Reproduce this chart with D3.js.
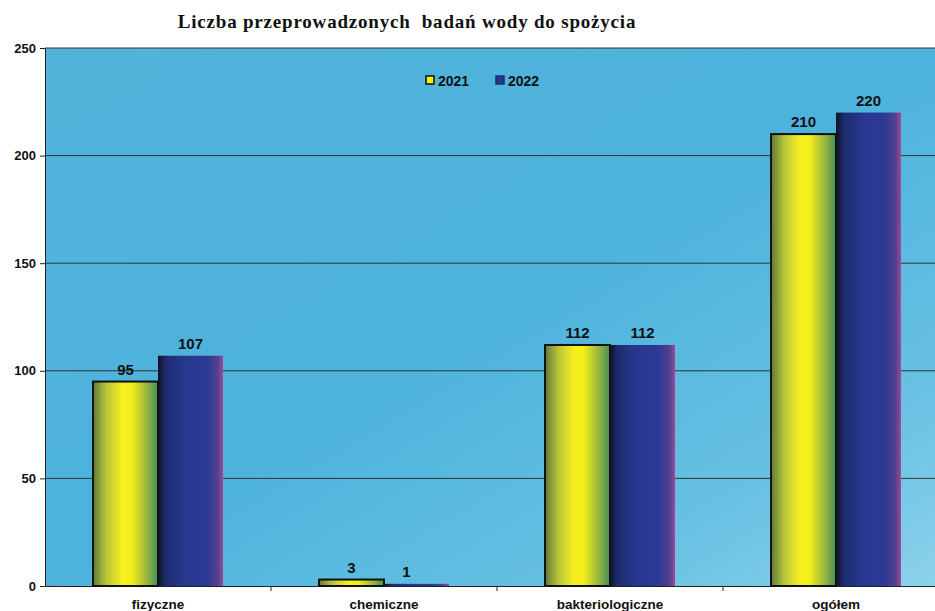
<!DOCTYPE html>
<html>
<head>
<meta charset="utf-8">
<script src="https://cdn.jsdelivr.net/npm/d3@7"></script>
<style>
  body { margin: 0; background: #fff; }
  text { font-family: "Liberation Sans", Arial, sans-serif; }
</style>
</head>
<body>
<svg></svg>
<script>
let categories = ['fizyczne', 'chemiczne', 'bakteriologiczne', 'ogółem'];
let series = ['2021', '2022'];
let values2021 = [95, 3, 112, 210];
let values2022 = [107, 1, 112, 220];
let yTicks = [0, 50, 100, 150, 200, 250];

let width = 935;
let height = 611;
let plotLeft = 45;
let plotRight = 949;
let plotTop = 48;
let plotBottom = 586;

let svg = d3.select('svg')
  .attr('width', width)
  .attr('height', height)

let defs = svg.append('defs');

let bg = defs.append('linearGradient').attr('id', 'bg')
  .attr('x1', 0).attr('y1', 0).attr('x2', 1).attr('y2', 1);
bg.append('stop').attr('offset', '0%').attr('stop-color', '#52b3da');
bg.append('stop').attr('offset', '50%').attr('stop-color', '#4db3dc');
bg.append('stop').attr('offset', '80%').attr('stop-color', '#68c1e3');
bg.append('stop').attr('offset', '100%').attr('stop-color', '#8dd2ec');

let g1 = defs.append('linearGradient').attr('id', 'g2021');
[['0%', '#5f7a3a'], ['20%', '#b8c43a'], ['45%', '#f7f020'], ['60%', '#f2ee1a'], ['85%', '#8fb040'], ['100%', '#3f8f5a']]
  .forEach(s => g1.append('stop').attr('offset', s[0]).attr('stop-color', s[1]));

let g2 = defs.append('linearGradient').attr('id', 'g2022');
[['0%', '#111122'], ['12%', '#1e2c6e'], ['40%', '#27378f'], ['75%', '#2d3a94'], ['92%', '#54408f'], ['100%', '#a04a98']]
  .forEach(s => g2.append('stop').attr('offset', s[0]).attr('stop-color', s[1]));

let xScale = d3.scaleBand()
  .domain(categories)
  .range([plotLeft, plotRight])
  .paddingInner(0.425)
  .paddingOuter(0.2125)

let xSub = d3.scaleBand()
  .domain(series)
  .range([0, xScale.bandwidth()])

let yScale = d3.scaleLinear()
  .domain([0, 250])
  .range([plotBottom, plotTop])

// plot background
svg.append('rect')
  .attr('x', plotLeft)
  .attr('y', plotTop)
  .attr('width', plotRight - plotLeft)
  .attr('height', plotBottom - plotTop)
  .attr('fill', 'url(#bg)')

// title
svg.append('text')
  .attr('x', 407)
  .attr('y', 28)
  .attr('text-anchor', 'middle')
  .style('font-family', '"Liberation Serif", "Times New Roman", serif')
  .style('font-weight', 'bold')
  .style('font-size', '19px')
  .style('letter-spacing', '0.8px')
  .style('white-space', 'pre')
  .attr('fill', '#111')
  .text('Liczba przeprowadzonych  badań wody do spożycia')

// grid
svg.append('g')
  .selectAll('line')
  .data(yTicks.filter(d => d > 0))
  .enter()
  .append('line')
  .attr('x1', plotLeft)
  .attr('x2', plotRight)
  .attr('y1', d => yScale(d))
  .attr('y2', d => yScale(d))
  .attr('stroke', '#333')
  .attr('stroke-width', 1)

// y axis
let yAxis = d3.axisLeft(yScale).tickValues(yTicks).tickSize(5).tickPadding(4);
let ya = svg.append('g')
  .attr('transform', `translate(${plotLeft}, 0)`)
  .call(yAxis)
ya.selectAll('text').style('font-size', '13px').style('font-weight', 'bold').attr('fill', '#111');
ya.selectAll('line, path').attr('stroke', '#222');

// x axis
let xAxis = d3.axisBottom(xScale).tickSize(0).tickPadding(13);
let xa = svg.append('g')
  .attr('transform', `translate(0, ${plotBottom})`)
  .call(xAxis)
xa.select('path').attr('stroke', '#222');
xa.selectAll('text').style('font-size', '13.5px').style('font-weight', 'bold').attr('fill', '#111');

// ticks between categories
let step = xScale.step();
svg.append('g')
  .selectAll('line')
  .data(categories.slice(1))
  .enter()
  .append('line')
  .attr('x1', d => xScale(d) - step * 0.425 / 2)
  .attr('x2', d => xScale(d) - step * 0.425 / 2)
  .attr('y1', plotBottom)
  .attr('y2', plotBottom + 5)
  .attr('stroke', '#222')

let rows = [];
categories.forEach((c, i) => {
  rows.push({ cat: c, s: '2021', v: values2021[i] });
  rows.push({ cat: c, s: '2022', v: values2022[i] });
});

svg.append('g')
  .selectAll('rect')
  .data(rows)
  .enter()
  .append('rect')
  .attr('x', d => xScale(d.cat) + xSub(d.s))
  .attr('y', d => yScale(d.v))
  .attr('width', xSub.bandwidth())
  .attr('height', d => plotBottom - yScale(d.v))
  .attr('fill', d => d.s === '2021' ? 'url(#g2021)' : 'url(#g2022)')
  .attr('stroke', d => d.s === '2021' ? '#111' : 'none')
  .attr('stroke-width', 2)

svg.append('g')
  .selectAll('text')
  .data(rows)
  .enter()
  .append('text')
  .attr('x', d => xScale(d.cat) + xSub(d.s) + xSub.bandwidth() / 2 + (d.v < 5 && d.s === '2022' ? -10 : 0))
  .attr('y', d => yScale(d.v) - 7)
  .attr('text-anchor', 'middle')
  .style('font-size', '15px')
  .style('font-weight', 'bold')
  .attr('fill', '#111')
  .text(d => d.v)

// legend
let legend = svg.append('g').attr('transform', 'translate(426, 81)');
series.forEach((s, i) => {
  let lg = legend.append('g').attr('transform', `translate(${i * 70}, 0)`);
  lg.append('rect')
    .attr('x', 0).attr('y', -5)
    .attr('width', 8).attr('height', 8)
    .attr('fill', i === 0 ? '#f2ee1a' : '#27378f')
    .attr('stroke', i === 0 ? '#111' : '#1e2c6e')
    .attr('stroke-width', 1.5)
  lg.append('text')
    .attr('x', 12).attr('y', 5)
    .style('font-size', '14px')
    .style('font-weight', 'bold')
    .attr('fill', '#111')
    .text(s)
});
</script>
</body>
</html>
